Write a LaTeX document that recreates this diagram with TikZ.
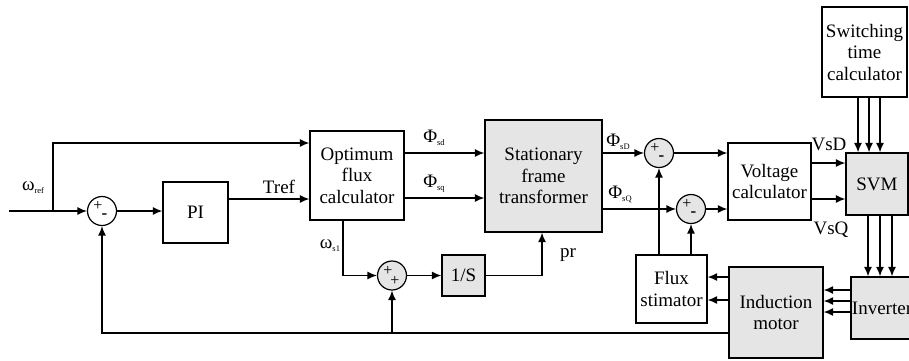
\documentclass[tikz,border=0pt]{standalone}
\usepackage{fontspec}
\setmainfont{Liberation Serif}
\usetikzlibrary{arrows.meta,calc}
\newcommand{\mysub}[1]{\raisebox{-3pt}{\fontsize{8.5}{8.5}\selectfont #1}}
\begin{document}
\begin{tikzpicture}[x=1pt,y=-1pt,
  blk/.style={draw,line width=1.3pt,inner sep=0pt,align=center,font=\fontsize{19}{21.5}\selectfont,fill=white},
  gblk/.style={blk,fill=black!10},
  sumc/.style={draw,circle,line width=1.2pt,minimum size=29pt,inner sep=0pt},
  arr/.style={line width=1.3pt,-{Latex[length=9.5pt,width=8pt]}},
  lbl/.style={font=\fontsize{19}{21}\selectfont,inner sep=0pt},
  sgn/.style={font=\fontsize{16}{16}\selectfont,inner sep=0pt}]
\useasboundingbox (0,0) rectangle (909,360);
% blocks
\node[blk,minimum width=94pt,minimum height=89pt] (opt) at (357,175.5) {Optimum\\flux\\calculator};
\node[blk,minimum width=65pt,minimum height=61pt] (pi) at (195.5,212.5) {PI};
\node[gblk,minimum width=117pt,minimum height=112pt] (stat) at (543.5,176) {Stationary\\frame\\transformer};
\node[gblk,minimum width=43pt,minimum height=41pt] (ints) at (463.5,275.5) {1/S};
\node[blk,minimum width=83pt,minimum height=77pt] (volt) at (769.5,181.5) {Voltage\\calculator};
\node[blk,minimum width=85pt,minimum height=90pt] (sw) at (864.5,52) {Switching\\time\\calculator};
\node[gblk,minimum width=62pt,minimum height=62pt] (svm) at (877,184) {SVM};
\node[blk,minimum width=71pt,minimum height=68pt] (flux) at (671.5,289) {Flux\\stimator};
\node[gblk,minimum width=94pt,minimum height=91pt] (im) at (776,312.5) {Induction\\motor};
\node[gblk,minimum width=62pt,minimum height=62pt] (inv) at (882,308) {Inverter};
% summing junctions
\node[sumc,fill=white] (s1) at (102,211) {};
\node[sumc,fill=black!10] (s2) at (392,275.5) {};
\node[sumc,fill=black!10] (s3) at (659,153) {};
\node[sumc,fill=black!10] (s4) at (691,209) {};
\foreach \s in {s1,s2,s3,s4}{\node[sgn] at ([shift={(-4pt,5pt)}]\s.center) {+};}
\foreach \s in {s1,s3,s4}{\node[sgn,font=\fontsize{17}{17}\selectfont\bfseries] at ([shift={(2.5pt,-5pt)}]\s.center) {-};}
\node[sgn] at ([shift={(3pt,-5pt)}]s2.center) {+};
% coordinates
\coordinate (in) at (9,211);
\coordinate (br) at (53,211);
\coordinate (tp) at (53,143);
\coordinate (tr) at (228,199);
\coordinate (ob) at (343,220);
% connectors
\draw[arr] (in) -- (s1.west);
\draw[arr] (br) -- (tp) -- (tp -| opt.west);
\draw[arr] (s1.east) -- (s1.east -| pi.west);
\draw[arr] (tr) -- (tr -| opt.west);
\draw[arr] ([yshift=22.5pt]opt.east) -- ([yshift=22.5pt]opt.east -| stat.west);
\draw[arr] ([yshift=-22.5pt]opt.east) -- ([yshift=-22.5pt]opt.east -| stat.west);
\draw[arr] (ob) |- (s2.west);
\draw[arr] (s2.east) -- (ints.west);
\draw[arr] (ints.east) -| ([xshift=-1.5pt]stat.south);
\draw[arr] (stat.east |- s3) -- (s3.west);
\draw[arr] (stat.east |- s4) -- (s4.west);
\draw[arr] (s3.east) -- (s3.east -| volt.west);
\draw[arr] (s4.east) -- (s4.east -| volt.west);
\draw[arr] ([yshift=18.5pt]volt.east) -- ([yshift=18.5pt]volt.east -| svm.west);
\draw[arr] ([yshift=-17.5pt]volt.east) -- ([yshift=-17.5pt]volt.east -| svm.west);
\foreach \d in {-6.5,4.5,15.5}{\draw[arr] ([xshift=\d pt]sw.south) -- ([xshift=\d pt]sw.south |- svm.north);}
\foreach \d in {-9,3,15}{\draw[arr] ([xshift=\d pt]svm.south) -- ([xshift=\d pt]svm.south |- inv.north);}
\foreach \d in {18,7,-4}{\draw[arr] ([yshift=\d pt]inv.west) -- ([yshift=\d pt]inv.west -| im.east);}
\foreach \d in {35.5,12.5}{\draw[arr] ([yshift=\d pt]im.west) -- ([yshift=\d pt]im.west -| flux.east);}
\draw[arr] (flux.north -| s3) -- (s3.south);
\draw[arr] (flux.north -| s4) -- (s4.south);
\coordinate (fbR) at ([yshift=-20.5pt]im.west);
\draw[arr] (fbR) -| (s1.south);
\draw[arr] (s2 |- fbR) -- (s2.south);
% labels
\node[lbl] at (33,188) {ω\mysub{ref}};
\node[lbl] at (279,187) {Tref};
\node[lbl] at (434,138) {Φ\mysub{sd}};
\node[lbl] at (434,184) {Φ\mysub{sq}};
\node[lbl] at (330,246) {ω\mysub{s1}};
\node[lbl] at (568,255) {pr};
\node[lbl] at (618,142) {Φ\mysub{sD}};
\node[lbl] at (620,194) {Φ\mysub{sQ}};
\node[lbl] at (829,144) {VsD};
\node[lbl] at (831,230) {VsQ};
\end{tikzpicture}
\end{document}
